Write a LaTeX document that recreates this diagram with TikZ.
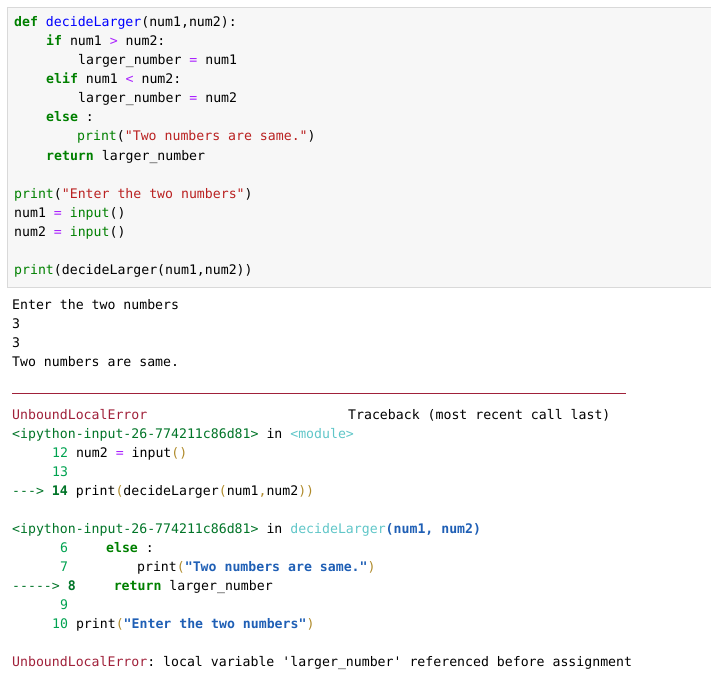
\documentclass[tikz,border=0pt]{standalone}
\usepackage{fontspec}
\setmonofont{DejaVu Sans Mono}
\usetikzlibrary{positioning}
\definecolor{kwgreen}{HTML}{008000}
\definecolor{fnblue}{HTML}{0000FF}
\definecolor{oppurple}{HTML}{AA22FF}
\definecolor{strred}{HTML}{BA2121}
\definecolor{errred}{HTML}{A0213A}
\definecolor{tbgreen}{HTML}{007427}
\definecolor{lngreen}{HTML}{00A250}
\definecolor{modcyan}{HTML}{60C6C8}
\definecolor{parbrown}{HTML}{AF8A2A}
\definecolor{tbblue}{HTML}{1F5FB5}
\newcommand{\kw}[1]{\textcolor{kwgreen}{\bfseries #1}}
\newcommand{\fn}[1]{\textcolor{fnblue}{#1}}
\newcommand{\op}[1]{\textcolor{oppurple}{#1}}
\newcommand{\st}[1]{\textcolor{strred}{#1}}
\newcommand{\pa}[1]{\textcolor{parbrown}{#1}}
\newcommand{\tb}[1]{\textcolor{tbblue}{\bfseries #1}}
\begin{document}
\begin{tikzpicture}[
    x=1bp, y=-1bp,
    codeline/.style={anchor=base west, inner sep=0pt,
        font=\ttfamily\fontsize{13.2bp}{19bp}\selectfont},
    codebox/.style={draw=black!15, fill=black!3}
]
\useasboundingbox (0,0) rectangle (711,684);
\draw[codebox] (7,7) rectangle (711,287);

% input cell
\node[codeline] (c1) at (14,27) {\kw{def} \fn{decideLarger}(num1,num2):};
\node[codeline] (c2) at (46,46) {\kw{if} num1 \op{>} num2:};
\node[codeline] (c3) at (78,65) {larger\_number \op{=} num1};
\node[codeline] (c4) at (46,84) {\kw{elif} num1 \op{<} num2:};
\node[codeline] (c5) at (78,103) {larger\_number \op{=} num2};
\node[codeline] (c6) at (46,122) {\kw{else} :};
\node[codeline] (c7) at (77,141) {\textcolor{kwgreen}{print}(\st{"Two numbers are same."})};
\node[codeline] (c8) at (46,160) {\kw{return} larger\_number};
\node[codeline] (c9) at (14,198) {\textcolor{kwgreen}{print}(\st{"Enter the two numbers"})};
\node[codeline] (c10) at (14,217) {num1 \op{=} \textcolor{kwgreen}{input}()};
\node[codeline] (c11) at (14,236) {num2 \op{=} \textcolor{kwgreen}{input}()};
\node[codeline] (c12) at (14,274) {\textcolor{kwgreen}{print}(decideLarger(num1,num2))};

% output
\node[codeline] (o1) at (12,309) {Enter the two numbers};
\node[codeline] (o2) at (12,328) {3};
\node[codeline] (o3) at (12,347) {3};
\node[codeline] (o4) at (12,366) {Two numbers are same.};
\coordinate (d1) at (12,393);
\coordinate (d2) at (626,393);
\draw[errred] (d1) -- (d2);
\node[codeline] (t1) at (12,419) {\textcolor{errred}{UnboundLocalError}};
\node[codeline] (t1b) at (348,419) {Traceback (most recent call last)};
\node[codeline] (t2) at (12,438) {\textcolor{tbgreen}{<ipython-input-26-774211c86d81>} in \textcolor{modcyan}{<module>}};
\node[codeline] (t3) at (52,457) {\textcolor{lngreen}{12} num2 \op{=} input\pa{()}};
\node[codeline] (t4) at (52,476) {\textcolor{lngreen}{13}};
\node[codeline] (t5) at (12,495) {\textcolor{tbgreen}{--->} \textcolor{tbgreen}{\bfseries 14} print\pa{(}decideLarger\pa{(}num1\pa{,}num2\pa{))}};
\node[codeline] (t6) at (12,533) {\textcolor{tbgreen}{<ipython-input-26-774211c86d81>} in \textcolor{modcyan}{decideLarger}\tb{(num1, num2)}};
\node[codeline] (t7) at (60,552) {\textcolor{lngreen}{6}\hspace{38bp}\kw{else} :};
\node[codeline] (t8) at (60,571) {\textcolor{lngreen}{7}\hspace{69bp}print\pa{(}\tb{"Two numbers are same."}\pa{)}};
\node[codeline] (t9) at (12,590) {\textcolor{tbgreen}{----->} \textcolor{tbgreen}{\bfseries 8}\hspace{38bp}\kw{return} larger\_number};
\node[codeline] (t10) at (60,609) {\textcolor{lngreen}{9}};
\node[codeline] (t11) at (52,628) {\textcolor{lngreen}{10} print\pa{(}\tb{"Enter the two numbers"}\pa{)}};
\node[codeline] (t12) at (12,666) {\textcolor{errred}{UnboundLocalError}: local variable 'larger\_number' referenced before assignment};
\end{tikzpicture}
\end{document}
